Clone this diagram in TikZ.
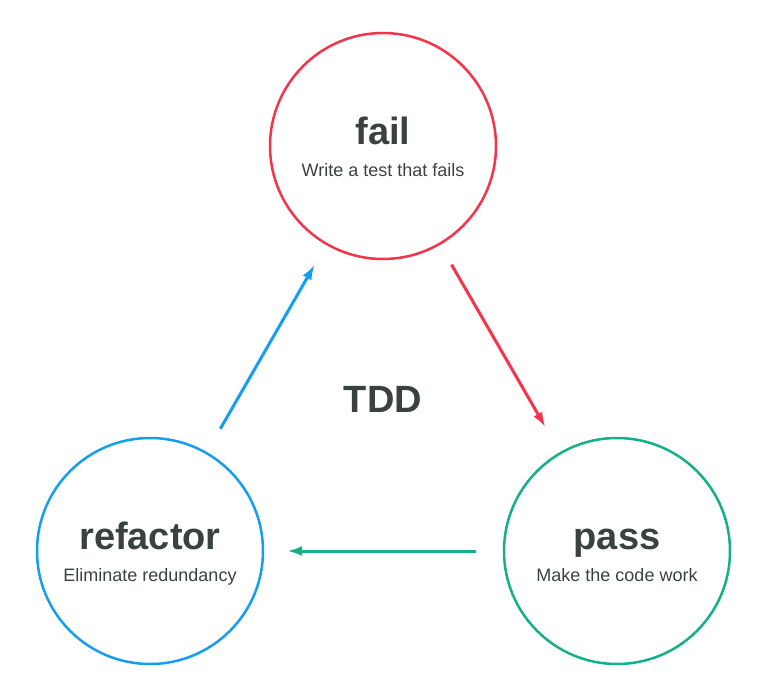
\documentclass[tikz,border=0pt]{standalone}
\usepackage{fontspec}
\setmainfont{Liberation Sans}
\usetikzlibrary{arrows.meta}
\definecolor{cred}{HTML}{F5334B}
\definecolor{cblue}{HTML}{149EF0}
\definecolor{cgreen}{HTML}{14B08A}
\definecolor{ctext}{HTML}{3A4240}
\begin{document}
\begin{tikzpicture}[x=1pt,y=-1pt,
  stage/.style={circle,draw=#1,line width=2.5pt,minimum size=226pt,inner sep=0pt,outer sep=0pt},
  title/.style={font=\fontsize{38}{42}\selectfont\bfseries,text=ctext,inner sep=0pt,anchor=base},
  sub/.style={font=\fontsize{18}{21}\selectfont,text=ctext,inner sep=0pt,anchor=base},
  flow/.style={draw=#1,line width=3pt,-{Latex[length=15pt,width=10pt]},shorten <=28pt,shorten >=24pt}]
\useasboundingbox (0,0) rectangle (768,699);
\node[stage=cred] (fail) at (383,146) {};
\node[stage=cgreen] (pass) at (617,551) {};
\node[stage=cblue] (refactor) at (150,551) {};
\node[title] (failt) at (383,144) {fail};
\node[sub] (fails) at (383,176) {Write a test that fails};
\node[title] (passt) at (617,549) {pass};
\node[sub] (passs) at (617,581) {Make the code work};
\node[title] (reft) at (150,549) {refactor};
\node[sub] (refs) at (150,581) {Eliminate redundancy};
\node[title] (tdd) at (383,412) {TDD};
\draw[flow=cblue] (refactor) -- (fail);
\draw[flow=cred,shorten <=24pt,shorten >=30pt] (fail) -- (pass);
\draw[flow=cgreen] (pass) -- (refactor);
\end{tikzpicture}
\end{document}
